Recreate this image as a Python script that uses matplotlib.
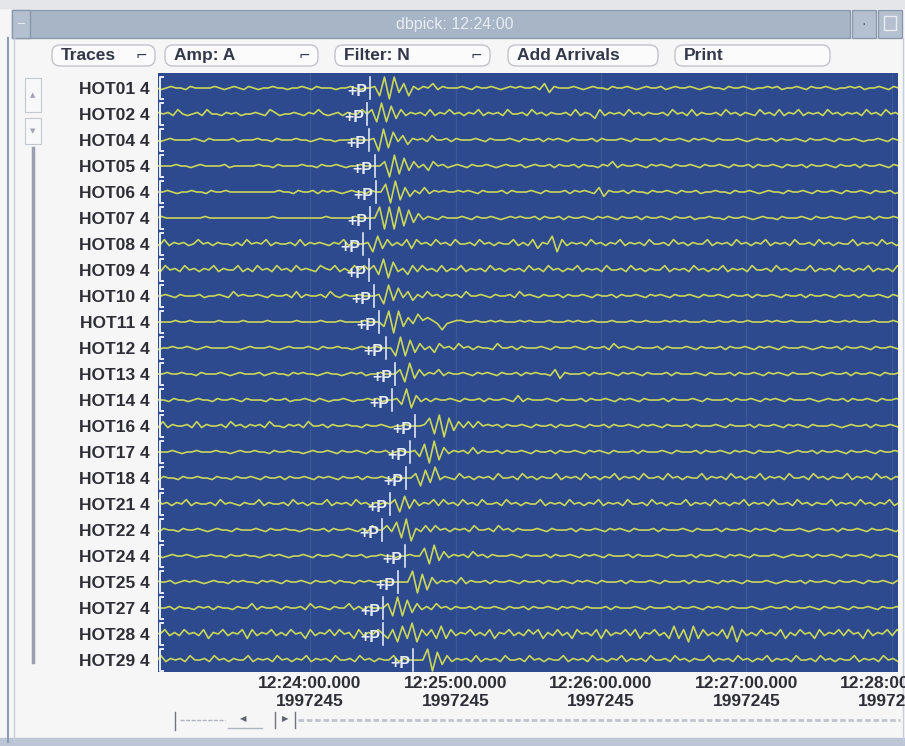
import matplotlib.pyplot as plt
import numpy as np
from matplotlib.patches import Rectangle, FancyBboxPatch

plt.rcParams['font.family'] = ['Liberation Sans', 'DejaVu Sans']

# station names and P pick times (seconds after 12:24:00)
stations = ['HOT01', 'HOT02', 'HOT04', 'HOT05', 'HOT06', 'HOT07', 'HOT08', 'HOT09',
            'HOT10', 'HOT11', 'HOT12', 'HOT13', 'HOT14', 'HOT16', 'HOT17', 'HOT18',
            'HOT21', 'HOT22', 'HOT24', 'HOT25', 'HOT27', 'HOT28', 'HOT29']
channel = '4'
picks = [24.7, 23.5, 24.3, 26.8, 27.2, 24.7, 21.9, 24.3, 26.4, 28.5, 31.3, 35.1,
         33.8, 43.3, 41.2, 39.6, 33.0, 29.7, 39.2, 36.3, 30.1, 30.1, 42.5]

# samples every 2 s, digit 4 = zero line; "pre" ends at the pick, "post" starts at it
pre = [
    "4454344543 4434544354 4445434543 5434454434 4543544434 45434",
    "4535344536 4354536434 5364435453 4454365344 5435464345 35446",
    "4445434454 4434544445 4354444534 4454435444 5443454434 44544",
    "4445444454 4444544345 4444534444 4544354444 5443544543 44544",
    "4454354435 4454344544 3544544444 4444454435 4453545434 54435",
    "4444544444 4454444444 4544444444 4444454444 4444445444 44544",
    "4536354536 4453635453 4645354435 3645463544 5363545435 46354",
    "5363546354 4536453645 3546354463 5364536453 6454365463 53646",
    "4454354453 4454354445 3445436454 4543544536 3544536435 44544",
    "4445444454 4445445444 4454444544 4454444454 4445444544 44544",
    "4454445434 4544543454 4445434544 4543454445 4354454434 54454",
    "4445434454 4544354445 4345444534 5443545443 4544345453 44544",
    "4454345443 5443454435 4454354443 5445344543 5434454344 54534",
    "4536354453 6354453645 3545364435 4536445354 4544354454 34454",
    "4454445434 4544454434 5445443544 5443454454 3544543544 53454",
    "4454354435 4454435443 5445435445 3544543545 4354453544 54354",
    "4536453645 3546354453 6454354463 5445364535 4463545364 53545",
    "4454345443 5443544543 4544354445 4354454434 5445354454 35364",
    "4454434544 5434454435 4454434545 4344543544 5435445344 54434",
    "4454354453 4545434544 3545443545 4354454354 4535443545 44544",
    "4543544354 4535443545 3544354463 5445354453 6454354463 53544",
    "5363546354 6353645362 5463546263 5463536452 6354636452 63546",
    "4536354536 4453645354 4635453645 3546354536 4453645354 46354",
]
post = [
    "4518082615 3546354445 4354454345 4544536254 4454345443 5445434544 5345445434 5443544543 4454534454 3544543445 4534454354 43544",
    "4618172635 4536354645 3546354536 4453645354 4536354263 5453645354 4536453635 4453645354 3645363546 3545364535 4536453645 35463",
    "4508173625 4536445354 4454354445 4354453545 4354445354 4454354445 3544543545 4354445434 5445354454 3544543544 5434454354 45434",
    "4460817263 5264534543 5445434544 5345445354 4535443546 3544543545 4354454354 4543544535 4454354453 5445435445 3544543544 54354",
    "4470816253 6354544545 4354445354 4454354445 3545436254 4535443544 5435445344 5443544543 4544354454 3544543544 5435445344 54434",
    "4480808172 6354354445 4354454345 4544535445 3544543545 4354453544 5435445344 5443544543 4544354445 4354454434 5445354454 35445",
    "4517263536 2645364536 4453645354 4635362547 1635453645 3546354536 4453645354 4635453645 3546354536 4453645354 4635453645 35463",
    "4628173526 3645363546 3545364535 4536453645 3546354536 4453645354 4635453645 3546354536 4453645354 4635453645 3546354536 44536",
    "4518273625 3645354536 4454354453 6454354453 5445435445 3544543545 4354454354 4543544535 4454354453 5445435445 3544543544 54354",
    "4280826375 6531345544 5445454445 4544454445 4544544454 4454454445 4545444544 5445445444 5454454444 5445445454 4454445444 54454",
    "4418172635 2645364535 4436445354 4454354445 4354453645 4354445354 4454354445 3544543545 4354445434 5445354454 3544543544 54354",
    "4618263546 3544543545 4354453545 4436254445 3544543545 4354445354 4454354445 3544543545 4354445434 5445354454 3544543544 54354",
    "4528163535 4454354453 5445436354 4454354445 3544543545 4354445354 4454354445 3544543545 4354445434 5445354454 3544543544 54354",
    "4457180726 3636454535 4454354453 5445435445 3544543545 4354445354 4454354445 3544543545 4354445434 5445354454 3544543544 54354",
    "4527081635 4536354453 5445435445 3544543545 4354445354 4454354445 3544543545 4354445434 5445354454 3544543544 5435445344 54434",
    "4461728354 3645354536 4453645354 4635453645 3546354536 4453645354 4635453645 3546354536 4453645354 4635453645 3546354536 44536",
    "4617263546 3645364536 4453645354 4635453645 3546354536 4453645354 4635453645 3546354536 4453645354 4635453645 3546354536 44536",
    "4637180536 3645354536 4453645354 4454354445 3544543545 4354445354 4454354445 3544543545 4354445434 5445354454 3544543544 54354",
    "4544718263 5453645354 4454354445 3544543545 4354445354 4454354445 3544543545 4354445434 5445354454 3544543544 5435445344 54434",
    "4448071635 4536354453 5445435445 3544543545 4354445354 4454354445 3544543545 4354445434 5445354454 3544543544 5435445344 54434",
    "4618172635 3645354453 5445435445 3544543545 4354445354 4454354445 3544543545 4354445434 5445354454 3544543544 5435445344 54434",
    "4261728163 6272635463 5362546353 6462536352 6453626354 6362546352 7261726353 6271635364 5362536452 6354636452 6354636452 63546",
    "4448072635 4536354536 4453645354 4635453645 3546354536 4453645354 4635453645 3546354536 4453645354 4635453645 3546354536 44536",
]
tick_secs = [0, 60, 120, 180, 240]
tick_labels = ['12:24:00.000\n1997245', '12:25:00.000\n1997245', '12:26:00.000\n1997245',
               '12:27:00.000\n1997245', '12:28:00.000\n1997245']
buttons = [('Traces', True), ('Amp: A', True), ('Filter: N', True), ('Add Arrivals', False), ('Print', False)]

blue = '#2d4a8e'
trace_col = '#c9d65a'
ink = '#2e2e36'
# display height (in trace spacings) of each digit level 0..8
levels = np.array([-0.42, -0.3, -0.17, -0.06, 0.0, 0.06, 0.17, 0.3, 0.42])

fig = plt.figure(figsize=(9.05, 7.46), dpi=100)
fig.patch.set_facecolor('#f6f6f6')

# window chrome in pixel coordinates
bg = fig.add_axes([0, 0, 1, 1])
bg.set_xlim(0, 905)
bg.set_ylim(746, 0)
bg.axis('off')
bg.add_patch(Rectangle((0, 0), 905, 8, color='#e4e6ea'))
bg.add_patch(Rectangle((12, 10), 838, 28, facecolor='#a8b5c6', edgecolor='#8a98ae', lw=1))
bg.add_patch(Rectangle((12, 10), 18, 28, facecolor='#b4c0cf', edgecolor='#8a98ae', lw=1))
bg.text(21, 24, '–', color='#eef2f6', ha='center', va='center', fontsize=9)
bg.add_patch(Rectangle((852, 10), 24, 28, facecolor='#b4c0cf', edgecolor='#8a98ae', lw=1))
bg.add_patch(Rectangle((878, 10), 24, 28, facecolor='#b4c0cf', edgecolor='#8a98ae', lw=1))
bg.add_patch(Rectangle((884, 16), 12, 14, facecolor='none', edgecolor='#e8edf2', lw=1))
bg.text(864, 24, '·', color='#556', ha='center', va='center', fontsize=10)
bg.text(455, 24, 'dbpick: 12:24:00', color='#e6ecf3', ha='center', va='center', fontsize=11.5)
bg.plot([8, 8], [38, 742], color='#8e9bb8', lw=1.5)
bg.plot([14, 14], [38, 742], color='#c5cede', lw=1)
bg.plot([903, 903], [38, 742], color='#c5cede', lw=1)
bg.add_patch(Rectangle((0, 738), 905, 8, color='#bcc5d5'))

# toolbar
bx = [52, 165, 335, 508, 675]
bw = [103, 153, 155, 150, 155]
for (label, menu), x0, w in zip(buttons, bx, bw):
    bg.add_patch(FancyBboxPatch((x0, 45), w, 21, boxstyle='round,pad=0,rounding_size=8',
                                facecolor='#fbfbfb', edgecolor='#c2c4cc', lw=1))
    bg.text(x0 + 9, 55.5, label, ha='left', va='center', fontsize=12.5,
            fontweight='bold', color='#33384a')
    if menu:
        bg.text(x0 + w - 14, 55, '⌐', ha='center', va='center', fontsize=10,
                color='#33384a', family='DejaVu Sans')

# left scrollbar
bg.add_patch(Rectangle((25, 78), 16, 34, facecolor='#f8f8f8', edgecolor='#c4c8d0', lw=0.8))
bg.text(33, 95, '▲', ha='center', va='center', fontsize=5, color='#a0a4b0', family='DejaVu Sans')
bg.add_patch(Rectangle((25, 118), 16, 26, facecolor='#f8f8f8', edgecolor='#c4c8d0', lw=0.8))
bg.text(33, 131, '▼', ha='center', va='center', fontsize=5, color='#a0a4b0', family='DejaVu Sans')
bg.plot([33, 33], [148, 662], color='#9aa0ae', lw=2.5)

# bottom scrollbar
bg.plot([175, 175], [712, 730], color='#707480', lw=1)
bg.plot([180, 225], [720, 720], color='#b0b4be', lw=1, ls=(0, (3, 1)))
bg.plot([228, 262], [728, 728], color='#b0b4be', lw=1)
bg.text(243, 719, '◀', ha='center', va='center', fontsize=6, color='#606470', family='DejaVu Sans')
bg.plot([275, 275], [712, 728], color='#707480', lw=1)
bg.text(285, 719, '▶', ha='center', va='center', fontsize=6, color='#606470', family='DejaVu Sans')
bg.plot([295, 295], [712, 728], color='#707480', lw=1)
bg.plot([298, 900], [720, 720], color='#c0c4cc', lw=2, ls=(0, (2, 1)))

# trace panel
ax = fig.add_axes([158 / 905, (746 - 672) / 746, 740 / 905, 599 / 746])
ax.set_facecolor(blue)
for s in ax.spines.values():
    s.set_visible(False)
ax.set_xlim(-62.7, 242.5)
ax.set_ylim(22.46, -0.577)

for t in tick_secs:
    ax.axvline(t, color='#3b5898', lw=1, zorder=1)

for i, (pk, a, b) in enumerate(zip(picks, pre, post)):
    pa = levels[[int(c) for c in a.replace(' ', '')]]
    pb = levels[[int(c) for c in b.replace(' ', '')]]
    ta = pk - 2.0 * np.arange(len(pa), 0, -1)
    tb = pk + 2.0 * np.arange(len(pb))
    tt = np.concatenate([ta, tb])
    yy = i - np.concatenate([pa, pb])
    ax.plot(tt, yy, color=trace_col, lw=1.2, zorder=3)
    ax.plot([pk, pk], [i - 0.42, i + 0.42], color='#dfe5f2', lw=1.2, zorder=4)
    ax.text(pk - 1.2, i + 0.12, '+P', ha='right', va='center', color='#e8ecf5',
            fontsize=11.5, fontweight='bold', zorder=5)
    # white bracket at the left of each trace
    ax.plot([-60.6, -61.8, -61.8, -60.6], [i - 0.42, i - 0.42, i + 0.42, i + 0.42],
            color='#e8ecf5', lw=1.4, zorder=4)

ax.set_xticks(tick_secs)
ax.set_xticklabels(tick_labels, fontsize=12.5, fontweight='bold', color=ink, linespacing=1.25)
ax.set_yticks(range(len(stations)))
ax.set_yticklabels([f'{s} {channel}' for s in stations], fontsize=12.5,
                   fontweight='bold', color=ink)
ax.tick_params(axis='x', length=0, pad=3)
ax.tick_params(axis='y', length=0, pad=6)

fig.savefig('out.png', dpi=100, facecolor=fig.get_facecolor())
